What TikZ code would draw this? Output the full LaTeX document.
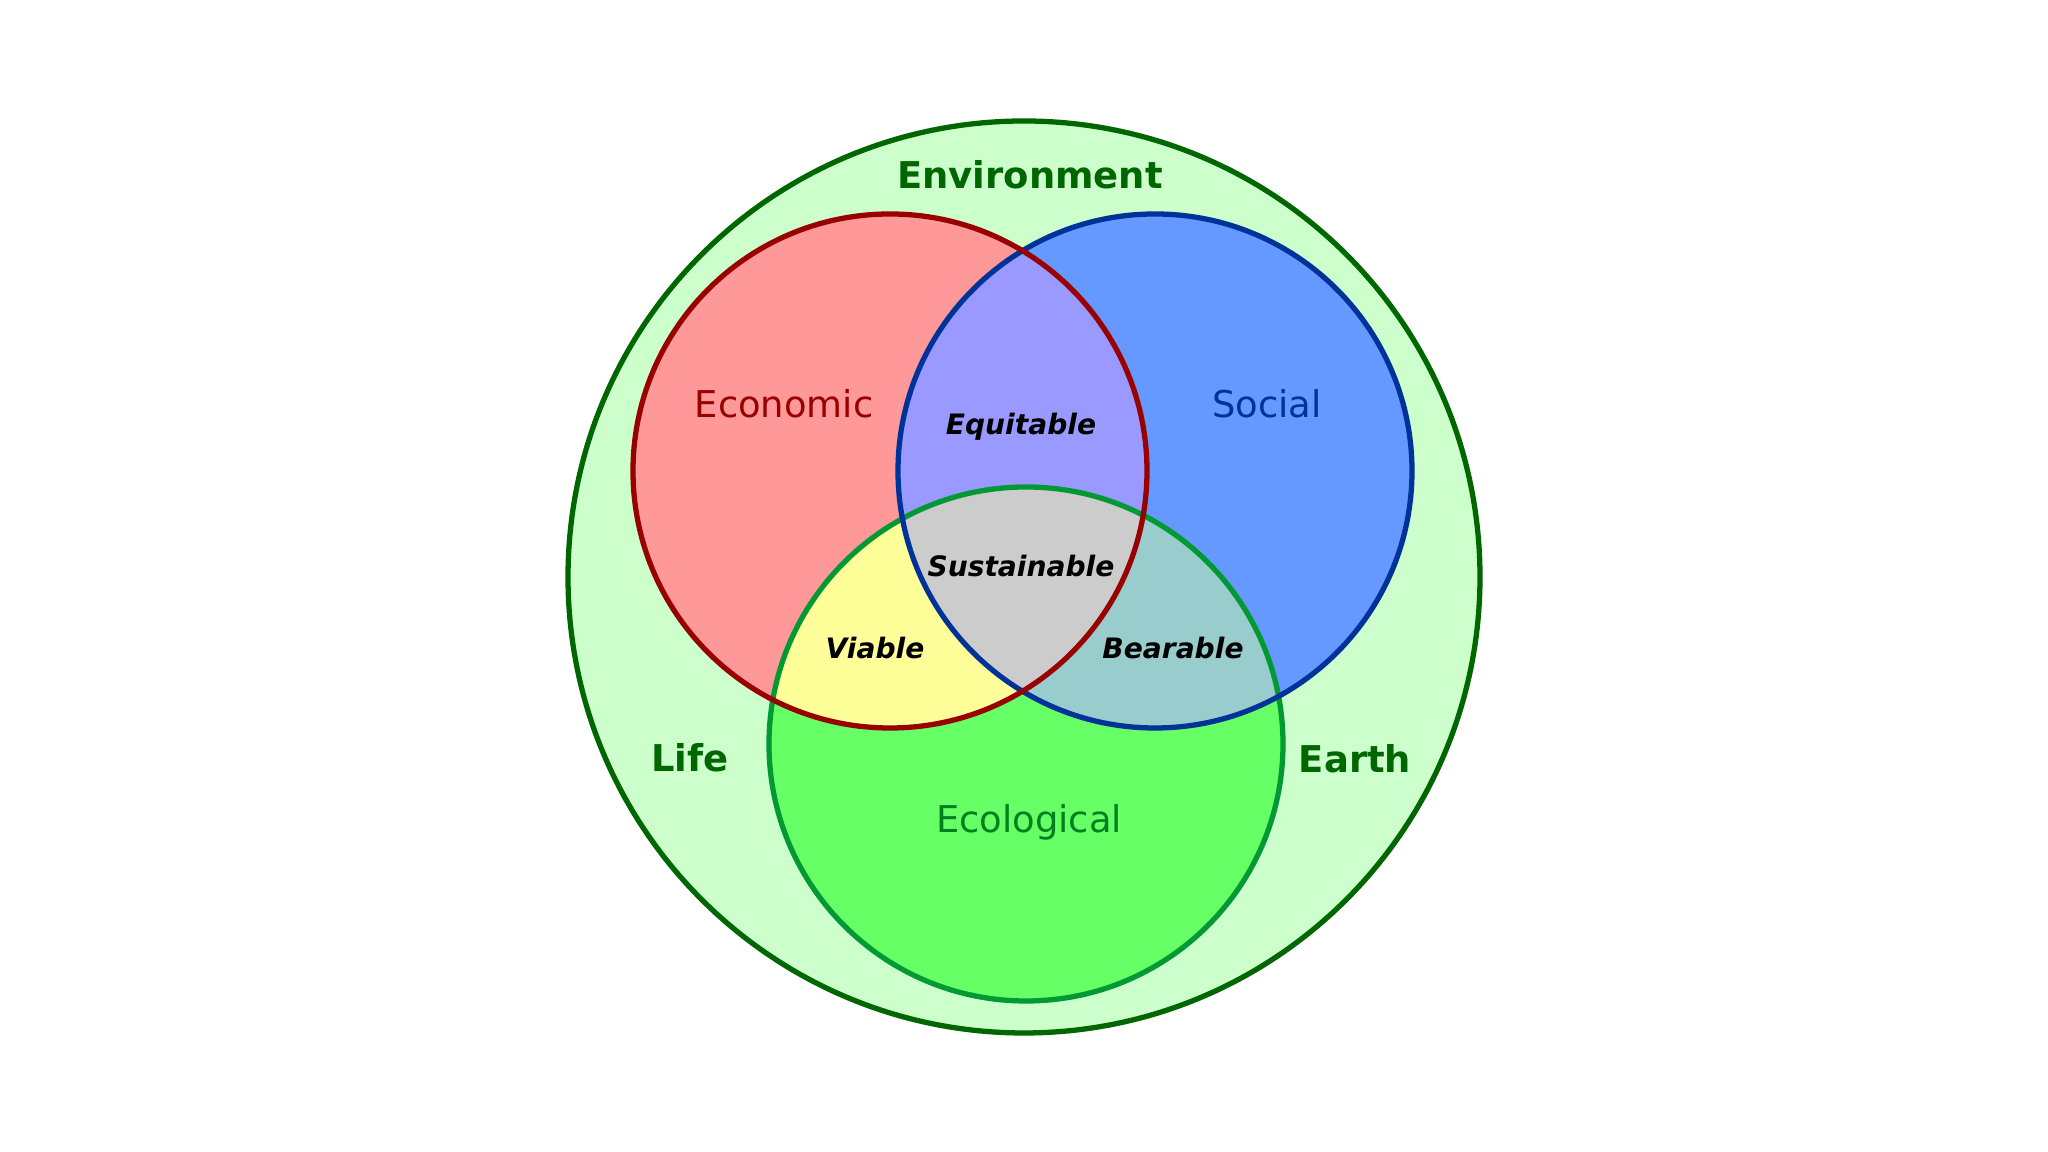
\documentclass[tikz,border=0pt]{standalone}
\usepackage{fontspec}
\setmainfont{DejaVu Sans}
\usetikzlibrary{positioning}
\definecolor{envfill}{HTML}{CCFFCC}
\definecolor{envline}{HTML}{006600}
\definecolor{econfill}{HTML}{FF9999}
\definecolor{econline}{HTML}{990000}
\definecolor{socfill}{HTML}{6699FF}
\definecolor{socline}{HTML}{003399}
\definecolor{ecofill}{HTML}{66FF66}
\definecolor{ecoline}{HTML}{009933}
\definecolor{ecotext}{HTML}{007F1F}
\definecolor{equitablefill}{HTML}{9999FF}
\definecolor{viablefill}{HTML}{FFFF99}
\definecolor{bearablefill}{HTML}{99CCCC}
\definecolor{sustainfill}{HTML}{CCCCCC}

\begin{document}
\begin{tikzpicture}[
    ring/.style={
        line width=1.5pt
    },
    envlabel/.style={
        font=\fontsize{10.5}{12}\selectfont\bfseries,
        text=envline
    },
    setlabel/.style={
        font=\fontsize{10.5}{12}\selectfont
    },
    overlap/.style={
        font=\fontsize{8}{10}\selectfont\bfseries\itshape
    }
]
    \useasboundingbox (0,0) rectangle (20.48,11.52);
    \def\setradius{2.57}

    \coordinate (env) at (10.24,5.75);
    \coordinate (econ) at (8.90,6.81);
    \coordinate (soc) at (11.55,6.81);
    \coordinate (eco) at (10.26,4.08);

    % environment
    \fill[envfill] (env) circle (4.56);
    \draw[ring, envline] (env) circle (4.56);

    % the three sets
    \fill[econfill] (econ) circle (\setradius);
    \fill[socfill] (soc) circle (\setradius);
    \fill[ecofill] (eco) circle (\setradius);

    % overlaps
    \begin{scope}
        \clip (econ) circle (\setradius);
        \fill[equitablefill] (soc) circle (\setradius);
        \fill[viablefill] (eco) circle (\setradius);
    \end{scope}
    \begin{scope}
        \clip (soc) circle (\setradius);
        \fill[bearablefill] (eco) circle (\setradius);
        \clip (econ) circle (\setradius);
        \fill[sustainfill] (eco) circle (\setradius);
    \end{scope}

    \draw[ring, ecoline] (eco) circle (\setradius);
    \draw[ring, socline] (soc) circle (\setradius);
    \draw[ring, econline] (econ) circle (\setradius);

    % labels
    \node[envlabel] (environment) at (10.30,9.77) {Environment};
    \node[envlabel] (life) at (6.90,3.94) {Life};
    \node[envlabel] (earth) at (13.55,3.93) {Earth};

    \node[setlabel, text=econline] (economic) at (7.84,7.48) {Economic};
    \node[setlabel, text=socline] (social) at (12.67,7.48) {Social};
    \node[setlabel, text=ecotext] (ecological) at (10.29,3.30) {Ecological};

    \node[overlap] (equitable) at (10.21,7.25) {Equitable};
    \node[overlap] (sustainable) at (10.21,5.86) {Sustainable};
    \node[overlap] (viable) at (8.75,5.04) {Viable};
    \node[overlap] (bearable) at (11.73,5.04) {Bearable};
\end{tikzpicture}
\end{document}
